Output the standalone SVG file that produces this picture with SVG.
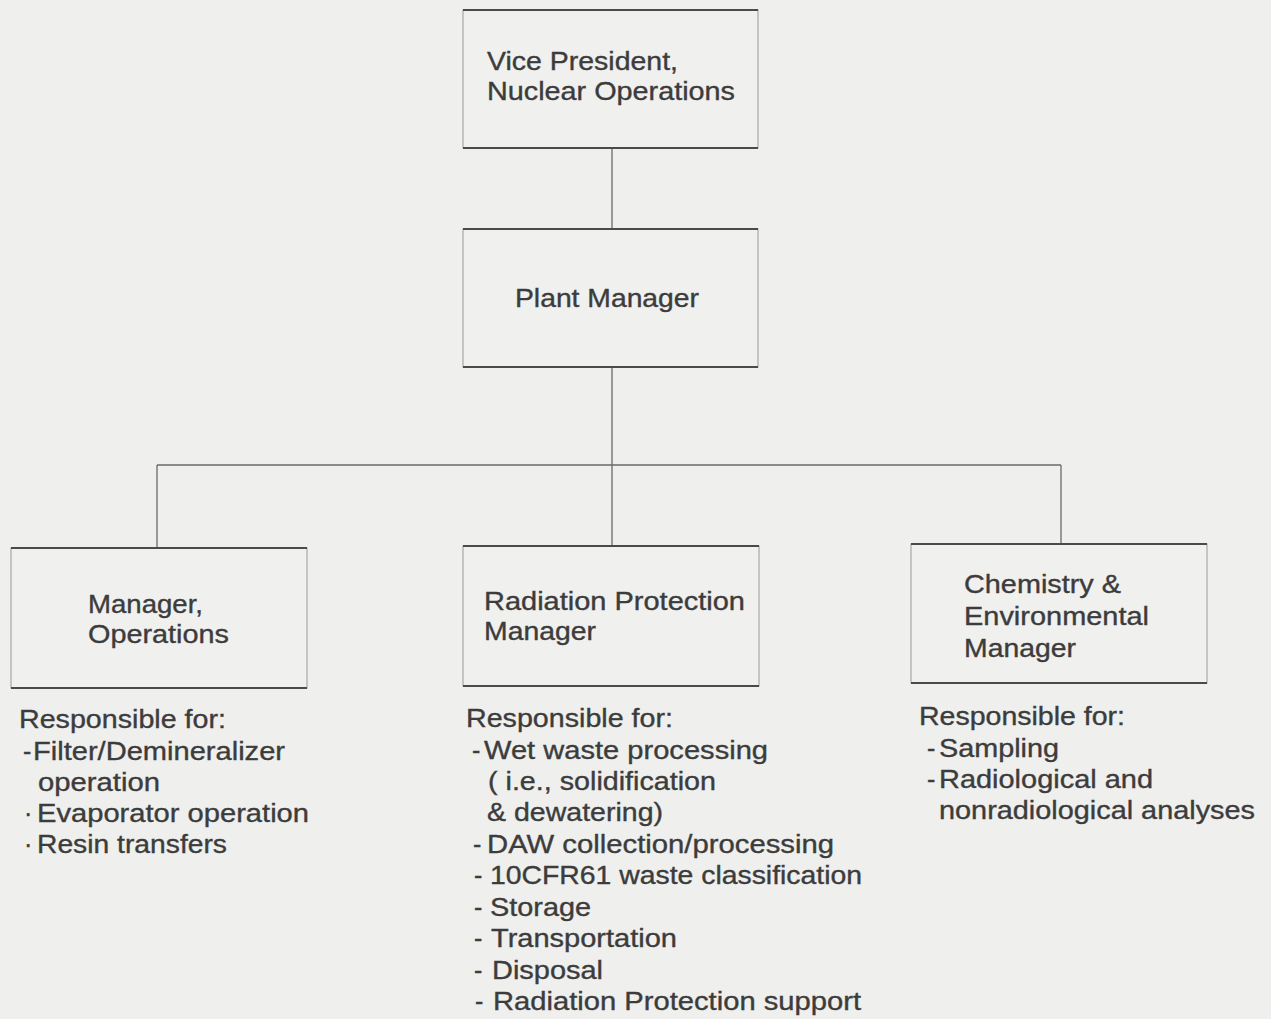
<svg xmlns="http://www.w3.org/2000/svg" width="1271" height="1019" viewBox="0 0 1271 1019">
<style>
.bg{fill:#efefed}
.box{fill:#f0f0ee;stroke:#9a9a9a;stroke-width:1}
.edge{stroke:#4a4a4a;stroke-width:2;fill:none}
.conn{stroke:#6a6a6a;stroke-width:1.3;fill:none}
text{font-family:"Liberation Sans",Arial,sans-serif;fill:#3c3c3c;font-size:25px;stroke:#3c3c3c;stroke-width:0.35}
</style>
<rect class="bg" x="0" y="0" width="1271" height="1019"/>
<g id="connectors">
<line class="conn" x1="612" y1="148" x2="612" y2="230"/>
<line class="conn" x1="612" y1="367" x2="612" y2="547"/>
<line class="conn" x1="157" y1="465" x2="1061" y2="465"/>
<line class="conn" x1="157" y1="465" x2="157" y2="549"/>
<line class="conn" x1="1061" y1="465" x2="1061" y2="544"/>
</g>
<g id="vp">
<rect class="box" x="463" y="10" width="295" height="138"/>
<line class="edge" x1="463" y1="10" x2="758" y2="10"/>
<line class="edge" x1="463" y1="148" x2="758" y2="148"/>
<text x="487" y="70" textLength="191" lengthAdjust="spacingAndGlyphs">Vice President,</text>
<text x="487" y="100" textLength="248" lengthAdjust="spacingAndGlyphs">Nuclear Operations</text>
</g>
<g id="plant">
<rect class="box" x="463" y="229" width="295" height="138"/>
<line class="edge" x1="463" y1="229" x2="758" y2="229"/>
<line class="edge" x1="463" y1="367" x2="758" y2="367"/>
<text x="515" y="307" textLength="184" lengthAdjust="spacingAndGlyphs">Plant Manager</text>
</g>
<g id="ops">
<rect class="box" x="11" y="548" width="296" height="140"/>
<line class="edge" x1="11" y1="548" x2="307" y2="548"/>
<line class="edge" x1="11" y1="688" x2="307" y2="688"/>
<text x="88" y="613" textLength="115" lengthAdjust="spacingAndGlyphs">Manager,</text>
<text x="88" y="643" textLength="141" lengthAdjust="spacingAndGlyphs">Operations</text>
<text x="19" y="728" textLength="207" lengthAdjust="spacingAndGlyphs">Responsible for:</text>
<text x="23" y="760">-</text>
<text x="33" y="760" textLength="252" lengthAdjust="spacingAndGlyphs">Filter/Demineralizer</text>
<text x="38" y="791" textLength="122" lengthAdjust="spacingAndGlyphs">operation</text>
<text x="24" y="822">·</text>
<text x="37" y="822" textLength="272" lengthAdjust="spacingAndGlyphs">Evaporator operation</text>
<text x="24" y="853">·</text>
<text x="37" y="853" textLength="190" lengthAdjust="spacingAndGlyphs">Resin transfers</text>
</g>
<g id="rp">
<rect class="box" x="463" y="546" width="296" height="140"/>
<line class="edge" x1="463" y1="546" x2="759" y2="546"/>
<line class="edge" x1="463" y1="686" x2="759" y2="686"/>
<text x="484" y="610" textLength="261" lengthAdjust="spacingAndGlyphs">Radiation Protection</text>
<text x="484" y="640" textLength="112" lengthAdjust="spacingAndGlyphs">Manager</text>
<text x="466" y="727" textLength="207" lengthAdjust="spacingAndGlyphs">Responsible for:</text>
<text x="472" y="759">-</text>
<text x="484" y="759" textLength="284" lengthAdjust="spacingAndGlyphs">Wet waste processing</text>
<text x="488" y="790" textLength="228" lengthAdjust="spacingAndGlyphs">( i.e., solidification</text>
<text x="487" y="821" textLength="176" lengthAdjust="spacingAndGlyphs">&amp; dewatering)</text>
<text x="473" y="853">-</text>
<text x="487" y="853" textLength="347" lengthAdjust="spacingAndGlyphs">DAW collection/processing</text>
<text x="474" y="884">-</text>
<text x="490" y="884" textLength="372" lengthAdjust="spacingAndGlyphs">10CFR61 waste classification</text>
<text x="474" y="916">-</text>
<text x="490" y="916" textLength="101" lengthAdjust="spacingAndGlyphs">Storage</text>
<text x="474" y="947">-</text>
<text x="491" y="947" textLength="186" lengthAdjust="spacingAndGlyphs">Transportation</text>
<text x="474" y="979">-</text>
<text x="492" y="979" textLength="111" lengthAdjust="spacingAndGlyphs">Disposal</text>
<text x="475" y="1010">-</text>
<text x="493" y="1010" textLength="368" lengthAdjust="spacingAndGlyphs">Radiation Protection support</text>
</g>
<g id="chem">
<rect class="box" x="911" y="544" width="296" height="139"/>
<line class="edge" x1="911" y1="544" x2="1207" y2="544"/>
<line class="edge" x1="911" y1="683" x2="1207" y2="683"/>
<text x="964" y="593" textLength="157" lengthAdjust="spacingAndGlyphs">Chemistry &amp;</text>
<text x="964" y="625" textLength="185" lengthAdjust="spacingAndGlyphs">Environmental</text>
<text x="964" y="657" textLength="112" lengthAdjust="spacingAndGlyphs">Manager</text>
<text x="919" y="725" textLength="206" lengthAdjust="spacingAndGlyphs">Responsible for:</text>
<text x="927" y="757">-</text>
<text x="939" y="757" textLength="120" lengthAdjust="spacingAndGlyphs">Sampling</text>
<text x="927" y="788">-</text>
<text x="939" y="788" textLength="214" lengthAdjust="spacingAndGlyphs">Radiological and</text>
<text x="939" y="819" textLength="316" lengthAdjust="spacingAndGlyphs">nonradiological analyses</text>
</g>
</svg>
